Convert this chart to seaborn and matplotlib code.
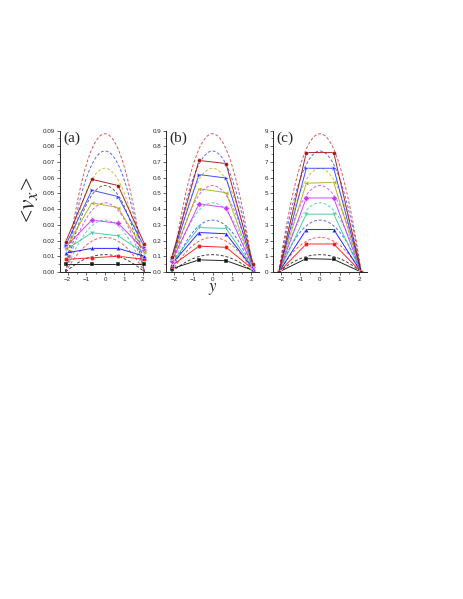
import numpy as np
import pandas as pd
import matplotlib
matplotlib.use("Agg")
import matplotlib.pyplot as plt
import seaborn as sns
from matplotlib.ticker import MultipleLocator, FormatStrFormatter


# measured positions across the channel
x_pos = [-2.1, -0.7, 0.7, 2.1]
half_width = 2.1

series = ["s1", "s2", "s3", "s4", "s5", "s6", "s7", "s8"]
marker_colors = ["#000000", "#ff0000", "#0000ff", "#2ec48f",
                 "#cc22ff", "#a8a800", "#2233ff", "#a00000"]
marker_shapes = ["s", "o", "^", "v", "D", "<", ">", "H"]

# panel (a)
a_outer_left = [0.005, 0.008, 0.012, 0.014, 0.016, 0.015, 0.017, 0.019]
a_inner_left = [0.005, 0.009, 0.015, 0.025, 0.033, 0.044, 0.052, 0.059]
a_inner_right = [0.005, 0.010, 0.015, 0.023, 0.031, 0.041, 0.048, 0.055]
a_outer_right = [0.005, 0.008, 0.010, 0.012, 0.014, 0.013, 0.016, 0.018]
a_peaks = [0.011, 0.022, 0.033, 0.044, 0.055, 0.066, 0.077, 0.088]
a_curve_colors = ["#000000", "#ff2020", "#2ec48f", "#cc22ff",
                  "#333333", "#b0b000", "#2233ff", "#cc2020"]

# panel (b)
b_outer_left = [0.02, 0.04, 0.05, 0.06, 0.07, 0.08, 0.09, 0.095]
b_inner_left = [0.077, 0.164, 0.251, 0.283, 0.433, 0.53, 0.62, 0.71]
b_inner_right = [0.072, 0.157, 0.243, 0.277, 0.41, 0.505, 0.598, 0.69]
b_outer_right = [0.01, 0.015, 0.02, 0.025, 0.03, 0.035, 0.04, 0.05]
b_peaks = [0.11, 0.22, 0.33, 0.44, 0.55, 0.66, 0.77, 0.88]
curve_colors = ["#000000", "#ff2020", "#2233ff", "#2ec48f",
                "#cc22ff", "#b0b000", "#2233ff", "#cc2020"]

# panel (c)
c_outer_left = [0.0, 0.0, 0.0, 0.0, 0.0, 0.0, 0.0, 0.0]
c_inner_left = [0.85, 1.78, 2.7, 3.68, 4.71, 5.65, 6.6, 7.6]
c_inner_right = [0.8, 1.78, 2.7, 3.68, 4.71, 5.7, 6.6, 7.6]
c_outer_right = [0.0, 0.0, 0.0, 0.0, 0.0, 0.0, 0.0, 0.0]
c_peaks = [1.1, 2.2, 3.3, 4.4, 5.5, 6.6, 7.7, 8.8]

panels = [
    ("(a)", [a_outer_left, a_inner_left, a_inner_right, a_outer_right],
     a_peaks, a_curve_colors, 0.09, 0.01, "%.2f"),
    ("(b)", [b_outer_left, b_inner_left, b_inner_right, b_outer_right],
     b_peaks, curve_colors, 0.9, 0.1, "%.1f"),
    ("(c)", [c_outer_left, c_inner_left, c_inner_right, c_outer_right],
     c_peaks, curve_colors, 9, 1, "%d"),
]

sns.set_style("ticks")
plt.rcParams["font.family"] = ["Liberation Sans", "DejaVu Sans"]
plt.rcParams["mathtext.fontset"] = "stix"

fig = plt.figure(figsize=(4.63, 5.99), dpi=100)
rects = [
    [60 / 463, 0.546, 90 / 463, 0.236],
    [166 / 463, 0.546, 93 / 463, 0.236],
    [273 / 463, 0.546, 94 / 463, 0.236],
]

y_grid = np.linspace(-half_width, half_width, 81)

for rect, (label, cols, peaks, ccolors, ymax, ystep, fmt) in zip(rects, panels):
    ax = fig.add_axes(rect)

    # theoretical parabolic profiles (dashed)
    rows = []
    for name, pk in zip(series, peaks):
        for y in y_grid:
            rows.append((name, y, pk * (1 - (y / half_width) ** 2)))
    curves = pd.DataFrame(rows, columns=["series", "y", "v"])
    sns.lineplot(
        data=curves, x="y", y="v", hue="series",
        palette=dict(zip(series, ccolors)),
        sort=False, estimator=None, legend=False,
        linewidth=0.7, alpha=0.75, ax=ax,
    )
    for line in ax.get_lines():
        line.set_dashes((3, 2))

    # measured points (solid lines with symbols)
    rows = []
    for i, name in enumerate(series):
        for x, col in zip(x_pos, cols):
            rows.append((name, x, col[i]))
    pts = pd.DataFrame(rows, columns=["series", "y", "v"])
    sns.lineplot(
        data=pts, x="y", y="v", hue="series", style="series",
        palette=dict(zip(series, marker_colors)),
        markers=dict(zip(series, marker_shapes)), dashes=False,
        sort=False, estimator=None, legend=False,
        linewidth=0.7, markersize=3.2, markeredgewidth=0.3,
        ax=ax,
    )
    for line in ax.get_lines()[-len(series):]:
        line.set_alpha(0.85)

    ax.set_xlim(-2.4, 2.4)
    ax.set_ylim(0, ymax)
    ax.xaxis.set_major_locator(MultipleLocator(1))
    ax.xaxis.set_minor_locator(MultipleLocator(0.5))
    ax.yaxis.set_major_locator(MultipleLocator(ystep))
    ax.yaxis.set_minor_locator(MultipleLocator(ystep / 2))
    ax.yaxis.set_major_formatter(FormatStrFormatter(fmt))
    ax.set_xlabel("")
    ax.set_ylabel("")
    ax.tick_params(which="major", direction="out", length=2, width=0.5,
                   labelsize=4.5, pad=1.5)
    ax.tick_params(which="minor", direction="out", length=1.2, width=0.4)
    sns.despine(ax=ax)
    for sp in ("left", "bottom"):
        ax.spines[sp].set_linewidth(0.7)
    ax.text(0.04, 0.99, label, transform=ax.transAxes, ha="left", va="top",
            fontsize=11, family=["Liberation Serif", "DejaVu Serif"])

fig.text(30 / 463, 1 - 200 / 599, "<$v_x$>", rotation=90, ha="center",
         va="center", fontsize=17, family=["Liberation Serif", "DejaVu Serif"])
fig.text(213 / 463, 1 - 289 / 599, "$y$", ha="center", va="center",
         fontsize=12)

fig.savefig("out.png", dpi=100)
